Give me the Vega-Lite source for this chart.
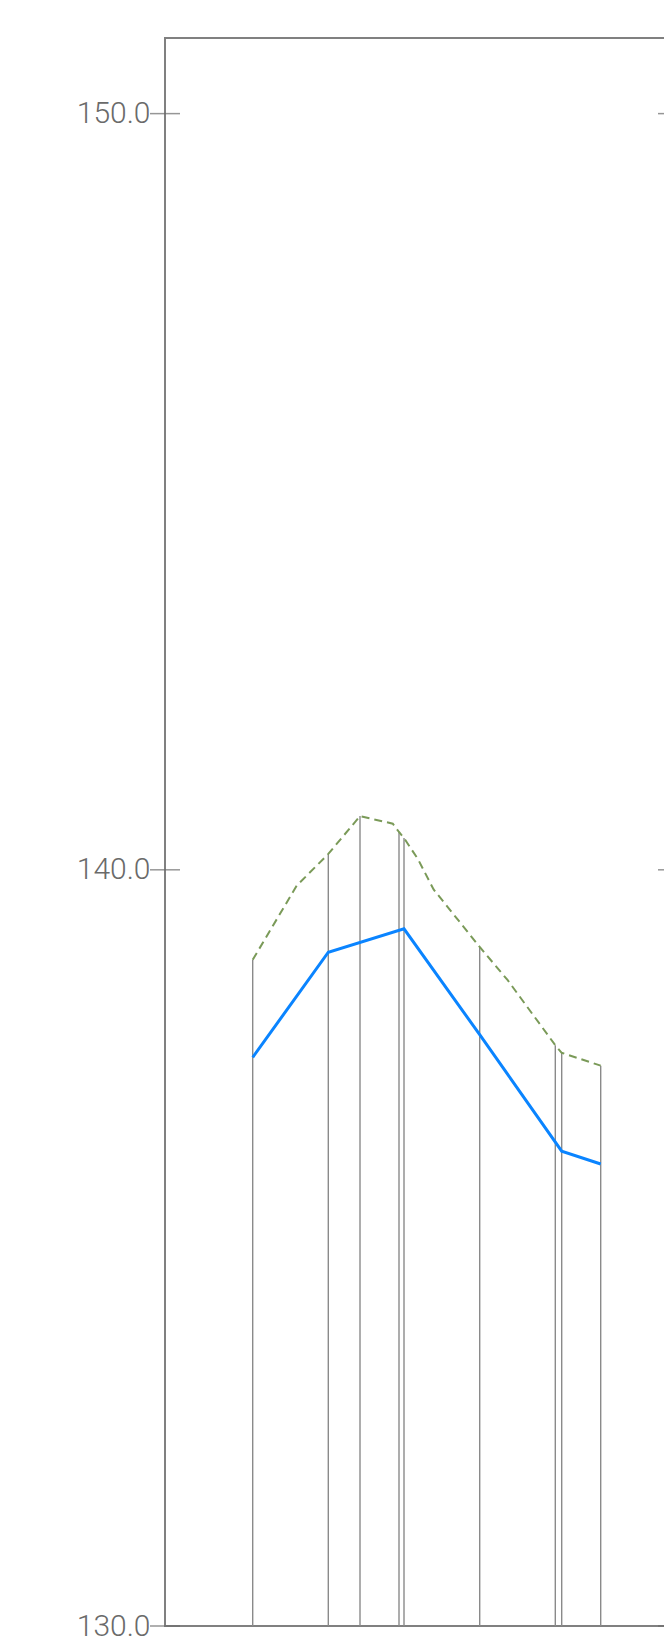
{
  "$schema": "https://vega.github.io/schema/vega-lite/v6.json",
  "width": 508,
  "height": 1588,
  "autosize": "none",
  "padding": {"left": 165, "top": 38, "right": 0, "bottom": 11},
  "background": "white",
  "config": {
    "view": {"stroke": "#808080", "strokeWidth": 2},
    "axis": {"grid": false}
  },
  "datasets": {
    "grade": [
      {"sta": 87.7, "elev": 137.52},
      {"sta": 163.3, "elev": 138.91},
      {"sta": 239.0, "elev": 139.22},
      {"sta": 314.7, "elev": 137.82},
      {"sta": 396.7, "elev": 136.28},
      {"sta": 435.7, "elev": 136.11}
    ],
    "ground": [
      {"sta": 87.7, "elev": 138.81},
      {"sta": 131.7, "elev": 139.79},
      {"sta": 163.3, "elev": 140.21},
      {"sta": 195.0, "elev": 140.71},
      {"sta": 227.8, "elev": 140.61},
      {"sta": 234.0, "elev": 140.5},
      {"sta": 239.0, "elev": 140.42},
      {"sta": 253.0, "elev": 140.14},
      {"sta": 268.6, "elev": 139.74},
      {"sta": 314.7, "elev": 138.98},
      {"sta": 342.7, "elev": 138.54},
      {"sta": 390.3, "elev": 137.68},
      {"sta": 396.7, "elev": 137.58},
      {"sta": 435.7, "elev": 137.41}
    ],
    "stations": [
      {"sta": 87.7, "base": 130, "top": 138.81},
      {"sta": 163.3, "base": 130, "top": 140.21},
      {"sta": 195.0, "base": 130, "top": 140.71},
      {"sta": 234.0, "base": 130, "top": 140.5},
      {"sta": 239.0, "base": 130, "top": 140.42},
      {"sta": 314.7, "base": 130, "top": 138.98},
      {"sta": 390.3, "base": 130, "top": 137.68},
      {"sta": 396.7, "base": 130, "top": 137.58},
      {"sta": 435.7, "base": 130, "top": 137.41}
    ],
    "ticks": [
      {"elev": 130},
      {"elev": 140},
      {"elev": 150}
    ]
  },
  "layer": [
    {
      "data": {"name": "stations"},
      "mark": {"type": "rule", "color": "#8a8a8a", "strokeWidth": 1.4},
      "encoding": {
        "x": {"field": "sta", "type": "quantitative", "scale": {"domain": [0, 508], "nice": false, "zero": false}, "axis": null},
        "y": {"field": "base", "type": "quantitative", "scale": {"domain": [130, 151], "nice": false, "zero": false},
              "axis": {"values": [130, 140, 150], "format": ".1f", "title": null, "domain": false, "ticks": false, "tickSize": 0,
                       "labelPadding": 15, "labelFont": "Roboto", "labelFontSize": 30, "labelColor": "#6a6a6a",
                       "labelFontWeight": 300}},
        "y2": {"field": "top"}
      }
    },
    {
      "data": {"name": "ground"},
      "mark": {"type": "line", "color": "#7a9a58", "strokeWidth": 2, "strokeDash": [8, 5]},
      "encoding": {
        "x": {"field": "sta", "type": "quantitative"},
        "y": {"field": "elev", "type": "quantitative"}
      }
    },
    {
      "data": {"name": "grade"},
      "mark": {"type": "line", "color": "#0a84ff", "strokeWidth": 3},
      "encoding": {
        "x": {"field": "sta", "type": "quantitative"},
        "y": {"field": "elev", "type": "quantitative"}
      }
    },
    {
      "data": {"name": "ticks"},
      "mark": {"type": "tick", "orient": "horizontal", "color": "#6a6a6a", "size": 30, "thickness": 1.5},
      "encoding": {
        "x": {"datum": 0, "type": "quantitative"},
        "y": {"field": "elev", "type": "quantitative"}
      }
    },
    {
      "data": {"name": "ticks"},
      "mark": {"type": "tick", "orient": "horizontal", "color": "#6a6a6a", "size": 30, "thickness": 1.5},
      "encoding": {
        "x": {"datum": 508, "type": "quantitative"},
        "y": {"field": "elev", "type": "quantitative"}
      }
    }
  ]
}
